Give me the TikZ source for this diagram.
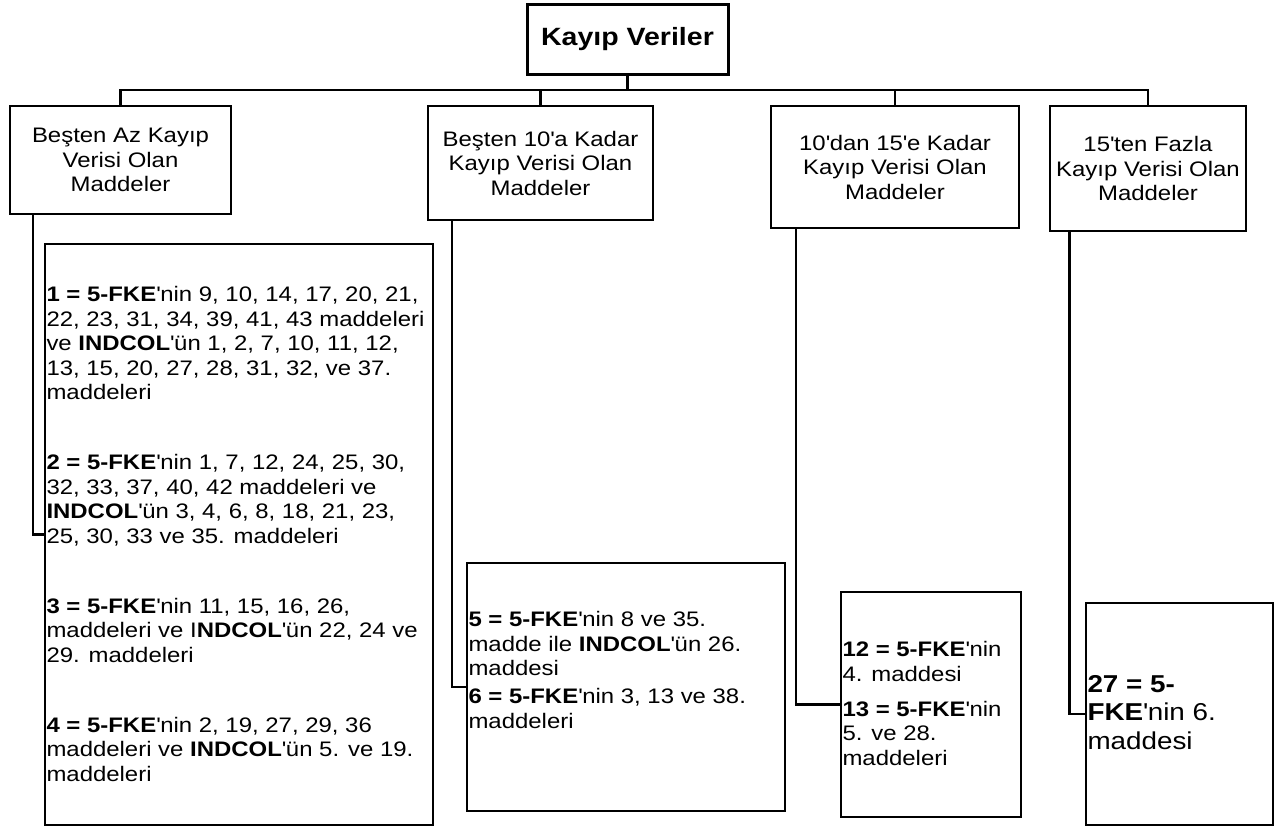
\documentclass[tikz,border=0pt]{standalone}
\usepackage{fontspec}
\setmainfont{Liberation Sans}[FakeStretch=1.14]
\usepackage{tikz}
\usetikzlibrary{positioning,calc}
\newcommand{\apos}{\textquotesingle}
\newcommand{\boxtext}[4]{\parbox[c][#1][t]{#2}{\raggedright\vspace*{#3}#4}}
\tikzset{
  titlebox/.style={draw=black,line width=3pt,inner sep=0pt,outer sep=0pt,align=center,
                   font=\fontsize{25}{29}\selectfont\bfseries},
  headbox/.style={draw=black,line width=2.7pt,inner sep=0pt,outer sep=0pt,align=center,
                  font=\fontsize{21}{24.5}\selectfont},
  itembox/.style={draw=black,line width=2.5pt,inner xsep=1.5pt,inner ysep=0pt,outer sep=0pt,
                  font=\fontsize{21}{24.5}\selectfont},
  ln/.style={line width=2.8pt,draw=black},
  lnd/.style={line width=2.1pt,draw=black}
}

\begin{document}
\begin{tikzpicture}[x=1pt,y=-1pt]
  \useasboundingbox (0,0) rectangle (1285,827);
  % top
  \node[titlebox,minimum width=201,minimum height=70] (title) at (627.5,39) {Kayıp Veriler};
  \coordinate (bar) at (628,90);
  % groups
  \node[headbox,minimum width=221,minimum height=108] (h1) at (120.5,160) {Beşten Az Kayıp\\Verisi Olan\\Maddeler};
  \node[headbox,minimum width=225,minimum height=114] (h2) at (540.5,163) {Beşten 10\apos a Kadar\\Kayıp Verisi Olan\\Maddeler};
  \node[headbox,minimum width=248,minimum height=122] (h3) at (895,167) {10\apos dan 15\apos e Kadar\\Kayıp Verisi Olan\\Maddeler};
  \node[headbox,minimum width=196,minimum height=125] (h4) at (1148,168.5) {15\apos ten Fazla\\Kayıp Verisi Olan\\Maddeler};
  % item lists
  \node[itembox] (d1) at (239,534.5) {\boxtext{581pt}{385pt}{42.5pt}{%
    \textbf{1 = 5-FKE}\apos nin 9, 10, 14, 17, 20, 21,\\
    22, 23, 31, 34, 39, 41, 43 maddeleri\\
    ve \textbf{INDCOL}\apos ün 1, 2, 7, 10, 11, 12,\\
    13, 15, 20, 27, 28, 31, 32, ve 37.\\
    maddeleri\\[45.5pt]
    \textbf{2 = 5-FKE}\apos nin 1, 7, 12, 24, 25, 30,\\
    32, 33, 37, 40, 42 maddeleri ve\\
    \textbf{INDCOL}\apos ün 3, 4, 6, 8, 18, 21, 23,\\
    25, 30, 33 ve 35. maddeleri\\[45.5pt]
    \textbf{3 = 5-FKE}\apos nin 11, 15, 16, 26,\\
    maddeleri ve I\textbf{NDCOL}\apos ün 22, 24 ve\\
    29. maddeleri\\[45.5pt]
    \textbf{4 = 5-FKE}\apos nin 2, 19, 27, 29, 36\\
    maddeleri ve \textbf{INDCOL}\apos ün 5. ve 19.\\
    maddeleri}};
  \node[itembox] (d2) at (626,687) {\boxtext{248pt}{315pt}{48.7pt}{%
    \textbf{5 = 5-FKE}\apos nin 8 ve 35.\\
    madde ile \textbf{INDCOL}\apos ün 26.\\
    maddesi\\[3.5pt]
    \textbf{6 = 5-FKE}\apos nin 3, 13 ve 38.\\
    maddeleri}};
  \node[itembox] (d3) at (931,704.5) {\boxtext{225pt}{177pt}{49.7pt}{%
    \textbf{12 = 5-FKE}\apos nin\\
    4. maddesi\\[10.5pt]
    \textbf{13 = 5-FKE}\apos nin\\
    5. ve 28.\\
    maddeleri}};
  \node[itembox,font=\fontsize{24.4}{28.5}\selectfont] (d4) at (1179.5,714) {\boxtext{222pt}{184pt}{72.3pt}{%
    \textbf{27 = 5-}\\
    \textbf{FKE}\apos nin 6.\\
    maddesi}};
  % tree lines
  \draw[ln] (title.south) -- (title.south |- bar);
  \draw[ln] (h1.north) |- (bar) -| (h4.north);
  \draw[ln] (h2.north) -- (h2.north |- bar);
  \draw[ln] (h3.north) -- (h3.north |- bar);
  \draw[lnd] ([xshift=23pt]h1.south west) |- (d1.west);
  \draw[lnd] ([xshift=24pt]h2.south west) |- (d2.west);
  \draw[lnd] ([xshift=25pt]h3.south west) |- (d3.west);
  \draw[lnd] ([xshift=19.5pt]h4.south west) |- (d4.west);
\end{tikzpicture}
\end{document}
